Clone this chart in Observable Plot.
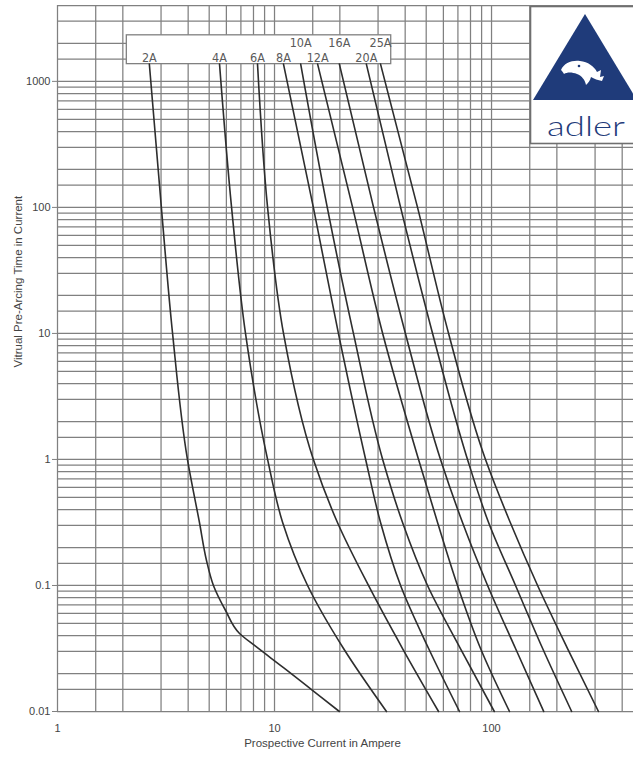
<!DOCTYPE html>
<html><head><meta charset="utf-8">
<script src="https://cdn.jsdelivr.net/npm/d3@7"></script>
<script src="https://cdn.jsdelivr.net/npm/@observablehq/plot@0.6"></script>
<style>
body{margin:0;background:#fff;}
#wrap{position:relative;width:633px;height:758px;overflow:hidden;background:#fff;}
#logo{position:absolute;left:0;top:0;pointer-events:none;}
</style></head><body><div id="wrap"></div>
<script>
// ---- data ----
const ratings = ["2A","4A","6A","8A","10A","12A","16A","20A","25A"];
const labelRow = [0,0,0,0,1,0,1,0,1];           // 0 = lower row, 1 = upper row in the label box
const times = [1370, 100, 10, 1, 0.316, 0.1, 0.0316, 0.01];   // seconds
const times2A = [1370, 100, 10, 1, 0.316, 0.158, 0.1, 0.0633, 0.0416, 0.0334, 0.0223, 0.0129, 0.01];
const current2A  = [2.65, 3.01, 3.39, 3.97, 4.51, 4.86, 5.23, 5.95, 6.90, 8.09, 11.0, 16.5, 19.9];
const current4A  = [5.58, 6.34, 7.35, 9.29, 10.9, 14.2, 20.8, 32.8];
const current6A  = [8.35, 9.29, 11.0, 15.1, 19.5, 27.1, 38.9, 57.0];
const current8A  = [11.0, 15.1, 19.7, 26.3, 30.8, 38.1, 51.3, 71.2];
const current10A = [13.2, 17.5, 23.1, 31.5, 38.9, 50.7, 71.9, 103];
const current12A = [15.8, 22.9, 31.5, 46.1, 56.4, 69.7, 89.0, 121];
const current16A = [19.9, 28.6, 40.1, 58.2, 73.5, 95.9, 129, 174];
const current20A = [26.5, 38.1, 53.5, 77.5, 96.9, 129, 172, 234];
const current25A = [30.8, 45.6, 63.4, 93.8, 122, 163, 224, 311];
const gridSteps = [1, 1.5, 2, 3, 4, 5, 6, 7, 8, 9];
const xDecades = [1, 10, 100];
const yDecades = [0.01, 0.1, 1, 10, 100, 1000];
const xTicks = [1, 10, 100];
const yTicks = [0.01, 0.1, 1, 10, 100, 1000];
const xDomain = [1, 451];
const yDomain = [0.01, 4000];
const xLabel = "Prospective Current in Ampere";
const yLabel = "Vitrual Pre-Arcing Time in Current";

// ---- build tables ----
const currents = [current2A, current4A, current6A, current8A, current10A, current12A, current16A, current20A, current25A];
const curves = [];
ratings.forEach((r, i) => {
  const ts = i === 0 ? times2A : times;
  currents[i].forEach((c, j) => curves.push({rating: r, I: c, t: ts[j]}));
});
const labels = ratings.map((r, i) => ({rating: r, I: currents[i][0], t: labelRow[i] ? 2000 : 1530}));
const xGrid = xDecades.flatMap(d => gridSteps.map(s => d * s)).filter(v => v <= xDomain[1]);
const yGrid = yDecades.flatMap(d => gridSteps.map(s => +(d * s).toPrecision(6))).filter(v => v <= yDomain[1]);
const box = [{
  x1: currents[0][0] / 1.27,
  x2: currents[8][0] * 1.12,
  y1: times[0],
  y2: 2320
}];

const gridColor = "#808080";
const chart = Plot.plot({
  width: 633, height: 758,
  marginLeft: 57, marginRight: 0, marginTop: 5, marginBottom: 47,
  x: {type: "log", domain: xDomain},
  y: {type: "log", domain: yDomain},
  style: {fontFamily: "'Liberation Sans', Arial, sans-serif", fontSize: "11px", color: "#333", background: "#fff"},
  marks: [
    Plot.ruleX(xGrid, {stroke: gridColor, strokeWidth: 1.25, strokeOpacity: 1}),
    Plot.ruleY(yGrid, {stroke: gridColor, strokeWidth: 1.25, strokeOpacity: 1}),
    Plot.rect(box, {x1: "x1", x2: "x2", y1: "y1", y2: "y2", fill: "#fff", stroke: gridColor, strokeWidth: 1.3}),
    Plot.text(labels, {x: "I", y: "t", text: "rating", fill: "#5a5a5a",
      fontFamily: "'Liberation Sans Narrow', 'DejaVu Sans Condensed', sans-serif", fontSize: 12.5, fontStretch: "condensed"}),
    Plot.line(curves, {x: "I", y: "t", z: "rating", curve: "monotone-y", stroke: "#2e2e2e", strokeWidth: 1.6}),
    Plot.axisY({ticks: yTicks, tickFormat: d => String(d), tickSize: 5, tickPadding: 2, label: null, stroke: gridColor, fill: "#444"}),
    Plot.axisX({ticks: xTicks, tickFormat: d => String(d), tickSize: 0, tickPadding: 13, label: null, fill: "#444"}),
    Plot.text([xLabel], {frameAnchor: "bottom", dy: 35, dx: -23, fill: "#444", fontSize: 11.5}),
    Plot.text([yLabel], {frameAnchor: "left", rotate: -90, dx: -39, dy: 9, fill: "#444", fontSize: 11.5})
  ]
});
const wrap = document.getElementById("wrap");
wrap.appendChild(chart);

// ---- logo (decoration) ----
const ns = "http://www.w3.org/2000/svg";
const logo = document.createElementNS(ns, "svg");
logo.setAttribute("id", "logo");
logo.setAttribute("width", "633");
logo.setAttribute("height", "758");
logo.innerHTML = `
  <rect x="530.5" y="6.5" width="110" height="137" fill="#fff" stroke="#6f6f6f" stroke-width="1.6"/>
  <path d="M585 14 L533 100 L637 100 Z" fill="#1f3b7a"/>
  <path d="M561 70 C564 63 572 60 580 61 C588 62 594 66 597 72 L601 70 L600 77 L604 76 L602 81 C598 80 594 79 591 77 C590 81 588 83 586 85 C585 80 582 76 577 74 C572 72 567 72 564 74 C563 72 562 71 561 70 Z" fill="#fff"/>
  <circle cx="579" cy="66" r="1.3" fill="#1f3b7a"/>
  <text x="586" y="136" text-anchor="middle" font-family="Lato, 'Open Sans', sans-serif" font-weight="300" font-size="27" fill="#1f3b7a" textLength="78" lengthAdjust="spacingAndGlyphs">adler</text>`;
wrap.appendChild(logo);
</script></body></html>
